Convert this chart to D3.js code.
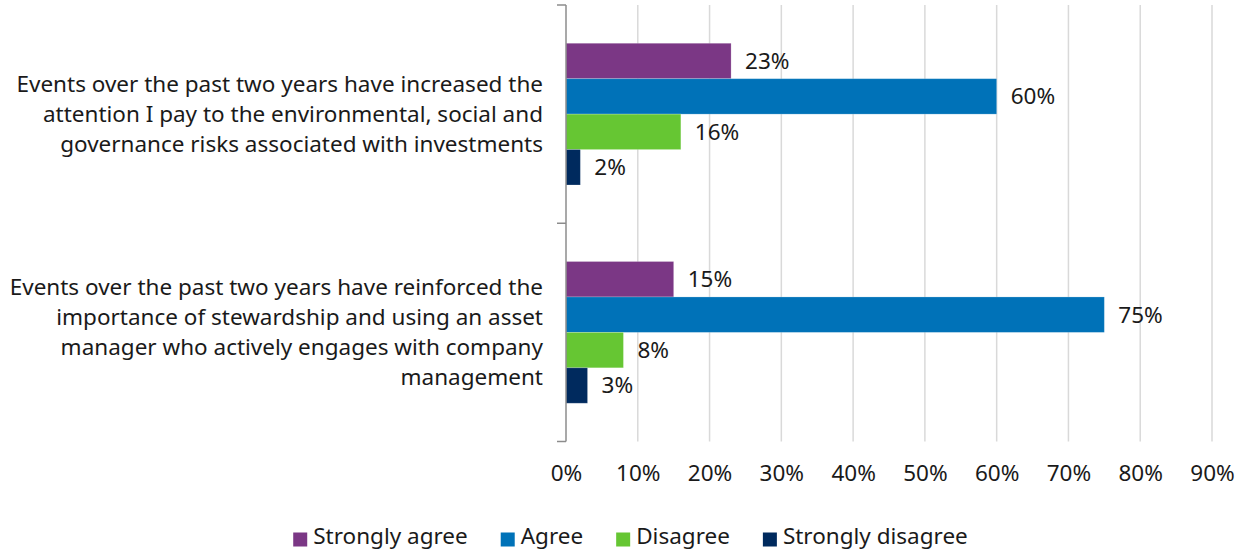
<!DOCTYPE html>
<html>
<head>
<meta charset="utf-8">
<script src="https://cdn.jsdelivr.net/npm/d3@7"></script>
<style>
  html, body { margin: 0; padding: 0; background: #fff; }
  svg { display: block; font-family: "Noto Sans", "Open Sans", sans-serif; }
</style>
</head>
<body>
<svg id="chart" width="1235" height="552"></svg>
<script>
// Survey statements (each string is one wrapped line)
const statements = [
  ["Events over the past two years have increased the",
   "attention I pay to the environmental, social and",
   "governance risks associated with investments"],
  ["Events over the past two years have reinforced the",
   "importance of stewardship and using an asset",
   "manager who actively engages with company",
   "management"]
];
const categoryIds = ["increased-attention", "reinforced-stewardship"];

// Response options and their colours
const responses = ["Strongly agree", "Agree", "Disagree", "Strongly disagree"];
const responseColors = ["#7b3785", "#0072b8", "#66c633", "#002a5e"];

// Share of respondents (%) per statement
const stronglyAgree    = [23, 15];
const agree            = [60, 75];
const disagree         = [16, 8];
const stronglyDisagree = [2, 3];
const seriesValues = [stronglyAgree, agree, disagree, stronglyDisagree];

// Axis ticks
const xTicks = [0, 10, 20, 30, 40, 50, 60, 70, 80, 90];

const FONT = 22.5;
const svg = d3.select("#chart");
const plot = { left: 566, right: 1212, top: 5, bottom: 441.5 };

const x = d3.scaleLinear().domain([0, 90]).range([plot.left, plot.right]);
const y = d3.scaleBand().domain(categoryIds).range([plot.top, plot.bottom]).padding(0);
const ySeries = d3.scaleBand().domain(responses).range([0, y.bandwidth()])
  .paddingInner(0).paddingOuter(1.08);

// Vertical gridlines
svg.append("g").selectAll("line")
  .data(xTicks.filter(t => t > 0))
  .join("line")
  .attr("x1", d => x(d)).attr("x2", d => x(d))
  .attr("y1", plot.top).attr("y2", plot.bottom)
  .attr("stroke", "#d9d9d9").attr("stroke-width", 1.5);

// Bars
const rows = [];
categoryIds.forEach((c, ci) => {
  responses.forEach((r, ri) => {
    rows.push({ cat: c, resp: r, value: seriesValues[ri][ci], color: responseColors[ri] });
  });
});

svg.append("g").selectAll("rect")
  .data(rows)
  .join("rect")
  .attr("x", x(0))
  .attr("y", d => y(d.cat) + ySeries(d.resp))
  .attr("width", d => x(d.value) - x(0))
  .attr("height", ySeries.bandwidth())
  .attr("fill", d => d.color)
  .attr("stroke", "#ffffff").attr("stroke-opacity", 0.25).attr("stroke-width", 0.8);

// Value labels
svg.append("g").selectAll("text")
  .data(rows)
  .join("text")
  .attr("x", d => x(d.value) + 14)
  .attr("y", d => y(d.cat) + ySeries(d.resp) + ySeries.bandwidth() / 2)
  .attr("dy", "0.35em")
  .attr("font-size", FONT)
  .attr("fill", "#1a1a1a")
  .text(d => d.value + "%");

// Category axis (left)
const axisG = svg.append("g").attr("stroke", "#8c8c8c").attr("stroke-width", 1.5);
axisG.append("line")
  .attr("x1", plot.left).attr("x2", plot.left)
  .attr("y1", plot.top).attr("y2", plot.bottom);
const sepTicks = [plot.top, ...categoryIds.slice(1).map(c => y(c)), plot.bottom];
axisG.selectAll("line.tick")
  .data(sepTicks)
  .join("line")
  .attr("class", "tick")
  .attr("x1", plot.left - 9).attr("x2", plot.left)
  .attr("y1", d => d).attr("y2", d => d);

// Category labels
const lineH = 30;
svg.append("g").selectAll("text")
  .data(categoryIds)
  .join("text")
  .attr("text-anchor", "end")
  .attr("font-size", FONT)
  .attr("fill", "#1a1a1a")
  .each(function(c, i) {
    const lines = statements[i];
    const cy = y(c) + y.bandwidth() / 2;
    const startY = cy - (lines.length - 1) * lineH / 2;
    d3.select(this).selectAll("tspan")
      .data(lines)
      .join("tspan")
      .attr("x", 543)
      .attr("y", (d, j) => startY + j * lineH)
      .attr("dy", "0.35em")
      .text(d => d);
  });

// X axis tick labels
const xAxis = d3.axisBottom(x).tickValues(xTicks).tickFormat(d => d + "%").tickSize(0).tickPadding(0);
const xg = svg.append("g").attr("transform", `translate(0, ${plot.bottom + 24})`).call(xAxis);
xg.select(".domain").remove();
xg.selectAll("text")
  .attr("font-size", FONT)
  .attr("font-family", "Noto Sans, Open Sans, sans-serif")
  .attr("fill", "#1a1a1a");

// Legend (swatch 14px, text baseline a little below the swatch centre)
const legend = svg.append("g");
const items = legend.selectAll("g")
  .data(responses)
  .join("g");
items.append("rect")
  .attr("width", 14).attr("height", 14)
  .attr("y", -7)
  .attr("fill", (d, i) => responseColors[i]);
items.append("text")
  .attr("x", 20)
  .attr("y", 4)
  .attr("font-size", FONT)
  .attr("fill", "#1a1a1a")
  .text(d => d);
let offset = 0;
const gap = 33;
const positions = [];
items.each(function() {
  const w = this.querySelector("text").getComputedTextLength();
  positions.push(offset);
  offset += 20 + w + gap;
});
const totalW = offset - gap;
const startX = 630.5 - totalW / 2;
items.attr("transform", (d, i) => `translate(${startX + positions[i]}, 539.5)`);
</script>
</body>
</html>
